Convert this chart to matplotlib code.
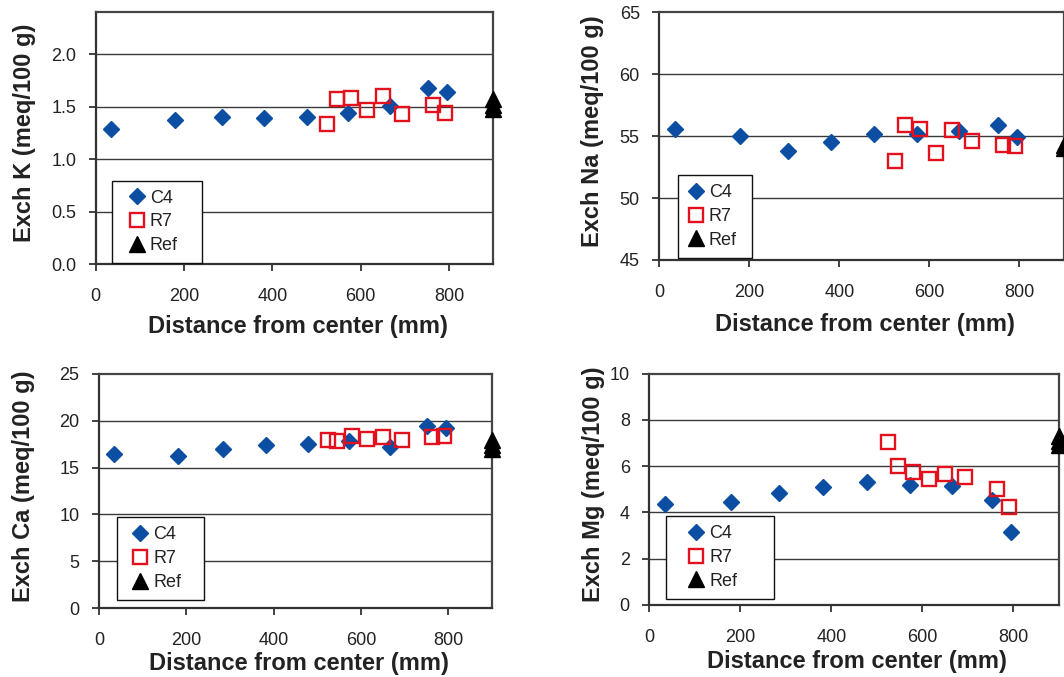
import matplotlib
matplotlib.use("Agg")
import matplotlib.pyplot as plt

plt.rcParams["font.family"] = ["Liberation Sans", "DejaVu Sans"]

# distances (mm)
c4_x = [35, 180, 285, 382, 478, 572, 666, 752, 795]
r7_x = [524, 546, 579, 615, 650, 694, 764, 790]
ref_x = 900

# exchangeable K
k_c4 = [1.29, 1.37, 1.40, 1.39, 1.40, 1.44, 1.51, 1.68, 1.64]
k_r7 = [1.34, 1.57, 1.58, 1.47, 1.60, 1.43, 1.52, 1.44]
k_ref = [1.48, 1.52, 1.57]

# exchangeable Na
na_c4 = [55.6, 55.0, 53.8, 54.5, 55.2, 55.2, 55.4, 55.9, 54.9]
na_r7 = [53.0, 55.9, 55.6, 53.6, 55.5, 54.6, 54.3, 54.2]
na_ref = [54.0, 54.3]

# exchangeable Ca
ca_c4 = [16.4, 16.2, 17.0, 17.4, 17.5, 17.8, 17.2, 19.4, 19.2]
ca_r7 = [17.9, 17.8, 18.4, 18.0, 18.3, 17.9, 18.3, 18.4]
ca_ref = [17.0, 17.4, 17.9]

# exchangeable Mg
mg_c4 = [4.36, 4.45, 4.82, 5.09, 5.31, 5.17, 5.14, 4.52, 3.17]
mg_r7 = [7.05, 6.00, 5.77, 5.45, 5.67, 5.54, 5.02, 4.22]
mg_ref = [6.9, 7.1, 7.3]

blue = "#0B4EA2"
red = "#E3101E"
grid_col = "#3a3a3a"

panels = [
    # rect, c4, r7, ref, ylim, yticks, fmt, ylabel, legend box (x0, y0, w), handlelength, ylabel x, xlabel y
    ([0.0899, 0.6096, 0.3737, 0.3722], k_c4, k_r7, k_ref, (0, 2.4), [0, 0.5, 1.0, 1.5, 2.0], "{:.1f}",
     "Exch K (meq/100 g)", (0.042, 0.004, 0.225), 1.7, -0.18, -0.245),
    ([0.6196, 0.6160, 0.3808, 0.3659], na_c4, na_r7, na_ref, (45, 65), [45, 50, 55, 60, 65], "{:.0f}",
     "Exch Na (meq/100 g)", (0.047, 0.009, 0.183), 0.95, -0.165, -0.262),
    ([0.0930, 0.1015, 0.3692, 0.3465], ca_c4, ca_r7, ca_ref, (0, 25), [0, 5, 10, 15, 20, 25], "{:.0f}",
     "Exch Ca (meq/100 g)", (0.046, 0.035, 0.221), 1.56, -0.192, -0.237),
    ([0.6102, 0.1064, 0.3851, 0.3416], mg_c4, mg_r7, mg_ref, (0, 10), [0, 2, 4, 6, 8, 10], "{:.0f}",
     "Exch Mg (meq/100 g)", (0.041, 0.027, 0.264), 2.33, -0.137, -0.243),
]

fig = plt.figure(figsize=(10.64, 6.77), dpi=100)

for rect, c4, r7, ref, ylim, yticks, fmt, ylabel, leg_box, hl, ylab_x, xlab_y in panels:
    ax = fig.add_axes(rect)
    ax.plot(c4_x, c4, linestyle="none", marker="D", markersize=8.6, color=blue,
            label="C4", zorder=3)
    ax.plot(r7_x, r7, linestyle="none", marker="s", markersize=10, markerfacecolor="none",
            markeredgecolor=red, markeredgewidth=1.7, label="R7", zorder=4)
    ax.plot([ref_x] * len(ref), ref, linestyle="none", marker="^", markersize=12,
            color="black", label="Ref", zorder=5, clip_on=False)

    ax.set_xlim(0, 900)
    ax.set_ylim(*ylim)
    ax.set_xticks([0, 200, 400, 600, 800])
    ax.set_yticks(yticks)
    ax.set_yticklabels([fmt.format(v) for v in yticks])
    ax.tick_params(axis="both", direction="out", length=5, width=1.3, color="#333333",
                   labelsize=13, labelcolor="#222222")
    ax.tick_params(axis="x", pad=12)
    ax.tick_params(axis="y", pad=9)

    for v in yticks:
        if v < ylim[1]:
            ax.axhline(v, color=grid_col, linewidth=1.0, zorder=1)

    for side in ["top", "right"]:
        ax.spines[side].set_color("#444444")
        ax.spines[side].set_linewidth(1.6)
    for side in ["left", "bottom"]:
        ax.spines[side].set_color("#333333")
        ax.spines[side].set_linewidth(1.6)

    ax.set_xlabel("Distance from center (mm)", fontsize=17, fontweight="bold", color="#222222")
    ax.xaxis.label.set_va("center")
    ax.xaxis.set_label_coords(0.508, xlab_y)
    ax.set_ylabel(ylabel, fontsize=17, fontweight="bold", color="#222222")
    ax.yaxis.label.set_va("center")
    ax.yaxis.set_label_coords(ylab_x, 0.52)

    x0, y0, w = leg_box
    leg = ax.legend(loc="lower left", bbox_to_anchor=(x0, y0, w, 0.3), mode="expand",
                    borderaxespad=0, fontsize=13, frameon=True, fancybox=False,
                    framealpha=1, edgecolor="#111111", handlelength=hl,
                    handletextpad=0.72 - hl / 2, labelspacing=0.38, borderpad=0.5)
    leg.get_frame().set_linewidth(1.0)
    for t in leg.get_texts():
        t.set_color("#222222")
    leg.set_zorder(6)

fig.savefig("out.png", dpi=100)
